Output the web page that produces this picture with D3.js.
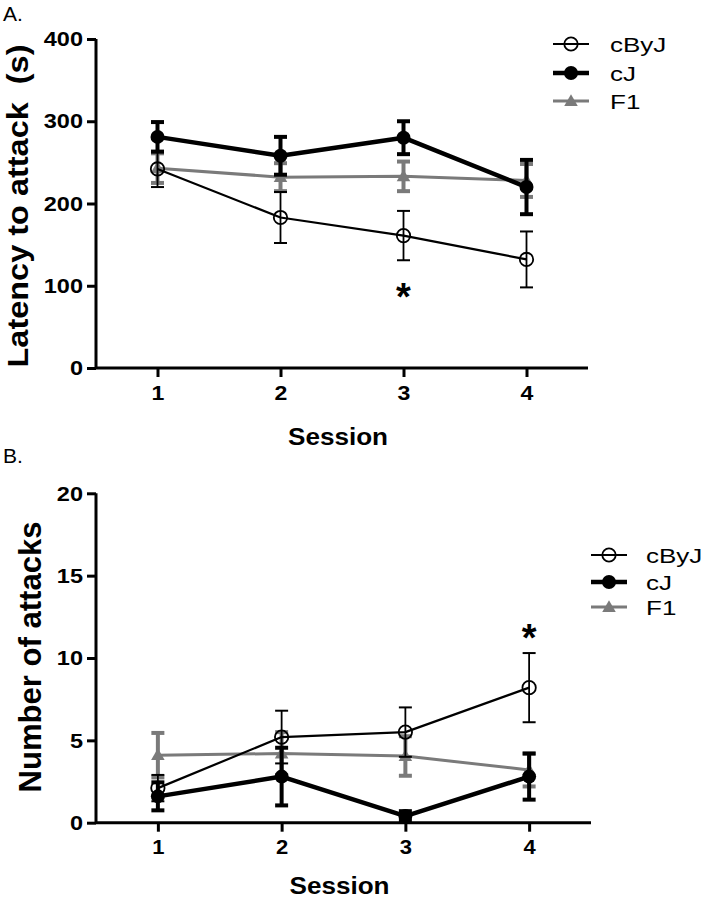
<!DOCTYPE html>
<html>
<head>
<meta charset="utf-8">
<script src="https://cdn.jsdelivr.net/npm/d3@7"></script>
<style>
  html, body { margin: 0; padding: 0; background: #fff; }
  svg { display: block; font-family: "Liberation Sans", Arial, sans-serif; }
</style>
</head>
<body>
<svg id="chart" width="709" height="900"></svg>
<script>
// ---------- data ----------
const sessions = [1, 2, 3, 4];
const seriesNames = ["cByJ", "cJ", "F1"];

// Panel A: latency to attack (s)
const latencyTicks = [0, 100, 200, 300, 400];
const latency_cByJ = [242, 183, 161, 132];
const latency_cByJ_err = [22, 31, 30, 34];
const latency_cJ = [281, 258, 280, 220];
const latency_cJ_err = [18, 23, 20, 33];
const latency_F1 = [243, 232, 233, 228];
const latency_F1_err = [18, 17, 18, 20];
const latencySig = [3];

// Panel B: number of attacks
const attackTicks = [0, 5, 10, 15, 20];
const attacks_cByJ = [2.1, 5.2, 5.5, 8.2];
const attacks_cByJ_err = [0.8, 1.6, 1.5, 2.1];
const attacks_cJ = [1.6, 2.8, 0.4, 2.8];
const attacks_cJ_err = [0.85, 1.75, 0.3, 1.4];
const attacks_F1 = [4.1, 4.2, 4.05, 3.2];
const attacks_F1_err = [1.35, 1.3, 1.2, 1.0];
const attackSig = [4];

// ---------- styles ----------
const styles = {
  cByJ: { color: "#000", lw: 2.2, ew: 1.8, capH: 2, marker: "openCircle" },
  cJ:   { color: "#000", lw: 4.5, ew: 4,   capH: 4, marker: "filledCircle" },
  F1:   { color: "#7a7a7a", lw: 3, ew: 4,  capH: 4, marker: "triangle" }
};
const FONT = "'Liberation Sans', Arial, sans-serif";
const svg = d3.select("#chart");

function drawMarker(g, type, x, y, color) {
  if (type === "openCircle") {
    g.append("circle").attr("cx", x).attr("cy", y).attr("r", 6.7)
      .attr("fill", "none").attr("stroke", color).attr("stroke-width", 1.8);
  } else if (type === "filledCircle") {
    g.append("circle").attr("cx", x).attr("cy", y).attr("r", 7)
      .attr("fill", color);
  } else {
    g.append("path").attr("transform", `translate(${x},${y + 1})`)
      .attr("d", d3.symbol(d3.symbolTriangle, 80)()).attr("fill", color);
  }
}

function drawPanel(p) {
  const x = d3.scaleLinear().domain([0.5, 4.5]).range([p.left, p.right]);
  const y = d3.scaleLinear().domain([p.ticks[0], p.ticks[p.ticks.length - 1]]).range([p.bottom, p.top]);
  const g = svg.append("g");

  // axes
  const yAxis = g.append("g").attr("transform", `translate(${p.left},0)`)
    .call(d3.axisLeft(y).tickValues(p.ticks).tickFormat(d3.format("d")).tickSize(9).tickPadding(4));
  const xAxis = g.append("g").attr("transform", `translate(0,${p.bottom})`)
    .call(d3.axisBottom(x).tickValues(sessions).tickFormat(d3.format("d"))
      .tickSize(9).tickPadding(p.xPad).tickSizeOuter(0));
  [yAxis, xAxis].forEach(a => {
    a.select(".domain").attr("stroke", "#000").attr("stroke-width", 3);
    a.selectAll(".tick line").attr("stroke", "#000").attr("stroke-width", 3);
    a.selectAll(".tick text").attr("fill", "#000").attr("font-family", FONT)
      .attr("font-weight", "bold");
  });
  yAxis.select(".domain").attr("d", `M0,${p.bottom}V${p.top}`);
  xAxis.select(".domain").attr("d", `M${p.left},0H${p.right}`);
  yAxis.selectAll(".tick text").attr("font-size", p.yTickFont)
    .attr("transform", `scale(${p.tickSx},1)`).attr("x", -13 / p.tickSx);
  xAxis.selectAll(".tick text").attr("font-size", p.xTickFont)
    .attr("transform", "scale(1.1,1)");

  // series
  p.series.forEach(s => {
    const st = styles[s.name];
    const sg = g.append("g");
    // error bars
    sessions.forEach((d, i) => {
      const cx = x(d), hi = y(s.values[i] + s.err[i]), lo = y(s.values[i] - s.err[i]);
      sg.append("line").attr("x1", cx).attr("x2", cx).attr("y1", hi).attr("y2", lo)
        .attr("stroke", st.color).attr("stroke-width", st.ew);
      [hi, lo].forEach(yy => {
        sg.append("line").attr("x1", cx - 6.5).attr("x2", cx + 6.5).attr("y1", yy).attr("y2", yy)
          .attr("stroke", st.color).attr("stroke-width", st.capH);
      });
    });
    // line
    sg.append("path")
      .datum(sessions.map((d, i) => [d, s.values[i]]))
      .attr("d", d3.line().x(d => x(d[0])).y(d => y(d[1])))
      .attr("fill", "none").attr("stroke", st.color).attr("stroke-width", st.lw)
      .attr("stroke-linejoin", "round");
    sessions.forEach((d, i) => drawMarker(sg, st.marker, x(d), y(s.values[i]), st.color));
  });

  // significance asterisks
  p.sig.forEach(sv => {
    g.append("text").attr("x", x(sv)).attr("y", p.sigY)
      .attr("text-anchor", "middle").attr("font-family", FONT).attr("font-weight", "bold")
      .attr("font-size", 38).text("*");
  });

  // axis titles
  g.append("text").attr("transform", `translate(${p.yLabelX},${p.yLabelY}) rotate(-90)`)
    .attr("text-anchor", "middle").attr("font-family", FONT).attr("font-weight", "bold")
    .attr("font-size", p.yLabelFont).attr("textLength", p.yLabelLen)
    .attr("lengthAdjust", "spacingAndGlyphs")
    .attr("xml:space", "preserve").style("white-space", "pre")
    .text(p.yLabel);
  g.append("text").attr("x", (p.left + p.right) / 2 - 4).attr("y", p.xLabelY)
    .attr("text-anchor", "middle").attr("font-family", FONT).attr("font-weight", "bold")
    .attr("font-size", 23).attr("textLength", 100).attr("lengthAdjust", "spacingAndGlyphs")
    .text("Session");

  // panel letter
  g.append("text").attr("x", 3).attr("y", p.letterY).attr("font-family", FONT)
    .attr("font-size", 21).text(p.letter);

  // legend
  p.series.slice().sort((a, b) => seriesNames.indexOf(a.name) - seriesNames.indexOf(b.name))
    .forEach((s, i) => {
      const st = styles[s.name];
      const ly = p.legendY[i];
      g.append("line").attr("x1", p.legendX).attr("x2", p.legendX + 36)
        .attr("y1", ly).attr("y2", ly).attr("stroke", st.color).attr("stroke-width", st.lw);
      drawMarker(g, st.marker, p.legendX + 18, ly, st.color);
      g.append("text").attr("transform", `translate(${p.legendTextX},${ly + 7.5}) scale(1.3,1)`)
        .attr("font-family", FONT).attr("font-size", 20).attr("fill", "#000").text(s.name);
    });
}

drawPanel({
  left: 96, right: 588, top: 39, bottom: 368,
  ticks: latencyTicks, yTickFont: 21, xTickFont: 21, tickSx: 1.12, xPad: 8,
  series: [
    { name: "F1", values: latency_F1, err: latency_F1_err },
    { name: "cByJ", values: latency_cByJ, err: latency_cByJ_err },
    { name: "cJ", values: latency_cJ, err: latency_cJ_err }
  ],
  sig: latencySig, sigY: 310,
  yLabel: "Latency to attack  (s)", yLabelX: 28, yLabelY: 206, yLabelFont: 30, yLabelLen: 323,
  xLabelY: 445, letter: "A.", letterY: 21,
  legendX: 553, legendTextX: 610, legendY: [44, 73, 101]
});

drawPanel({
  left: 96, right: 591, top: 493.3, bottom: 822.7,
  ticks: attackTicks, yTickFont: 21, xTickFont: 20, tickSx: 1.12, xPad: 8,
  series: [
    { name: "F1", values: attacks_F1, err: attacks_F1_err },
    { name: "cByJ", values: attacks_cByJ, err: attacks_cByJ_err },
    { name: "cJ", values: attacks_cJ, err: attacks_cJ_err }
  ],
  sig: attackSig, sigY: 651,
  yLabel: "Number of attacks", yLabelX: 41, yLabelY: 657, yLabelFont: 31, yLabelLen: 271,
  xLabelY: 894, letter: "B.", letterY: 463,
  legendX: 591, legendTextX: 646, legendY: [555, 582, 607]
});
</script>
</body>
</html>
